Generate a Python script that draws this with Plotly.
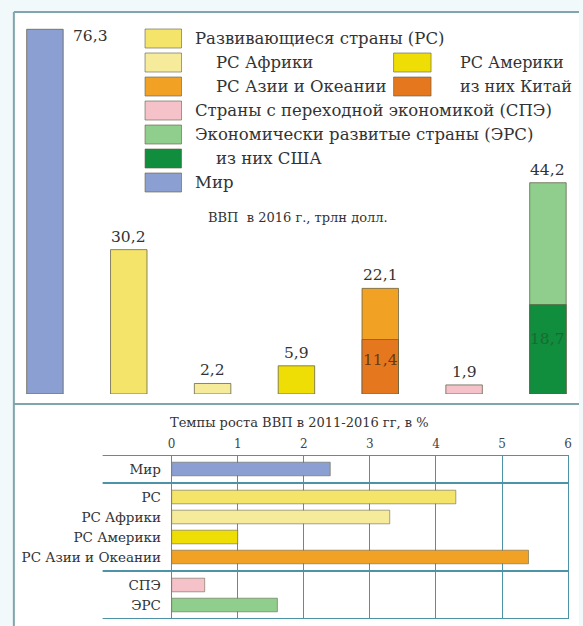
import plotly.graph_objects as go

W, H = 583, 626

# ---------------- data ----------------
gdp_categories = ["Мир", "РС", "РС Африки", "РС Америки", "РС Азии и Океании", "СПЭ", "ЭРС"]
gdp_values = [76.3, 30.2, 2.2, 5.9, 22.1, 1.9, 44.2]
gdp_labels = ["76,3", "30,2", "2,2", "5,9", "22,1", "1,9", "44,2"]

sub_categories = ["РС Азии и Океании", "ЭРС"]
sub_values = [11.4, 18.7]
sub_labels = ["11,4", "18,7"]

growth_categories = ["Мир", "РС", "РС Африки", "РС Америки", "РС Азии и Океании", "СПЭ", "ЭРС"]
growth_values = [2.4, 4.3, 3.3, 1.0, 5.4, 0.5, 1.6]
growth_groups = [0, 1, 1, 1, 1, 2, 2]
growth_ticks = [0, 1, 2, 3, 4, 5, 6]

legend_col1 = ["Развивающиеся страны (РС)", "РС Африки", "РС Азии и Океании",
               "Страны с переходной экономикой (СПЭ)", "Экономически развитые страны (ЭРС)",
               "из них США", "Мир"]
legend_col1_indent = [False, True, True, False, False, True, False]
legend_col2 = ["", "РС Америки", "из них Китай", "", "", "", ""]

gdp_title = "ВВП  в 2016 г., трлн долл."
growth_title = "Темпы роста ВВП в 2011-2016 гг, в %"

# ---------------- styles ----------------
FONT = "DejaVu Serif"
TXT = "#333333"
col = {
    "Мир": "#8b9fd2",
    "РС": "#f5e46a",
    "РС Африки": "#f5eb9a",
    "РС Америки": "#efde05",
    "РС Азии и Океании": "#f1a224",
    "СПЭ": "#f5c2c9",
    "ЭРС": "#8fce8c",
    "Китай": "#e5771f",
    "США": "#108d3d",
}
leg1_colors = [col["РС"], col["РС Африки"], col["РС Азии и Океании"], col["СПЭ"],
               col["ЭРС"], col["США"], col["Мир"]]
leg2_colors = [None, col["РС Америки"], col["Китай"], None, None, None, None]
FRAME = "#7fa6aa"
GRID = "#4d93a8"


def fx(p):
    return p / W


def fy(p):
    return 1 - p / H


fig = go.Figure()

# ---------- top chart ----------
center0, pitch = 41.5, 85.0
base_px, px_per_unit = 394.0, 4.78
bar_w = 37 / pitch

fig.add_trace(go.Bar(
    x=gdp_categories, y=gdp_values, width=bar_w,
    marker=dict(color=[col[c] for c in gdp_categories],
                line=dict(color="rgba(95,95,70,0.75)", width=1)),
    xaxis="x", yaxis="y", hoverinfo="skip", showlegend=False))
fig.add_trace(go.Bar(
    x=sub_categories, y=sub_values, width=bar_w,
    marker=dict(color=[col["Китай"], col["США"]],
                line=dict(color="rgba(95,95,70,0.75)", width=1)),
    xaxis="x", yaxis="y", hoverinfo="skip", showlegend=False))

annotations = []
for i, (c, v, t) in enumerate(zip(gdp_categories, gdp_values, gdp_labels)):
    if i == 0:
        annotations.append(dict(x=c, y=v, xref="x", yref="y", text=t, showarrow=False,
                                xshift=46, yanchor="top", yshift=4,
                                font=dict(family=FONT, size=15.5, color=TXT)))
    else:
        annotations.append(dict(x=c, y=v, xref="x", yref="y", text=t, showarrow=False,
                                yanchor="bottom", yshift=2,
                                font=dict(family=FONT, size=15.5, color=TXT)))
sub_txt_colors = ["#6b3a12", "#1b6a32"]
for c, v, t, tc in zip(sub_categories, sub_values, sub_labels, sub_txt_colors):
    annotations.append(dict(x=c, y=v * 0.62, xref="x", yref="y", text=t, showarrow=False,
                            font=dict(family=FONT, size=15.5, color=tc)))

annotations.append(dict(x=fx(205), y=fy(217), xref="paper", yref="paper", text=gdp_title,
                        showarrow=False, xanchor="left", yanchor="middle",
                        font=dict(family=FONT, size=13, color=TXT)))

# legend (drawn manually)
shapes = []
row0_top, row_pitch, sw_h = 29, 24, 19
for r, (name, ind, c1) in enumerate(zip(legend_col1, legend_col1_indent, leg1_colors)):
    top = row0_top + r * row_pitch
    shapes.append(dict(type="rect", xref="paper", yref="paper", x0=fx(143), x1=fx(180),
                       y0=fy(top + sw_h), y1=fy(top), fillcolor=c1,
                       line=dict(color="rgba(95,95,70,0.6)", width=1)))
    annotations.append(dict(x=fx(213 if ind else 192), y=fy(top + sw_h / 2), xref="paper",
                            yref="paper", text=name, showarrow=False, xanchor="left",
                            yanchor="middle", font=dict(family=FONT, size=16.5, color=TXT)))
for r, (name, c2) in enumerate(zip(legend_col2, leg2_colors)):
    if not name:
        continue
    top = row0_top + r * row_pitch
    shapes.append(dict(type="rect", xref="paper", yref="paper", x0=fx(395), x1=fx(433),
                       y0=fy(top + sw_h), y1=fy(top), fillcolor=c2,
                       line=dict(color="rgba(95,95,70,0.6)", width=1)))
    annotations.append(dict(x=fx(460), y=fy(top + sw_h / 2), xref="paper", yref="paper",
                            text=name, showarrow=False, xanchor="left", yanchor="middle",
                            font=dict(family=FONT, size=16, color=TXT)))

# ---------- bottom chart ----------
pad = 0.7
positions = []
p = pad
for i, g in enumerate(growth_groups):
    if i > 0:
        p += 2 * pad if g != growth_groups[i - 1] else 1.0
    positions.append(p)
y_end = positions[-1] + pad
separators = [0.0]
for i in range(1, len(growth_groups)):
    if growth_groups[i] != growth_groups[i - 1]:
        separators.append(positions[i] - pad)
separators.append(y_end)

fig.add_trace(go.Bar(
    x=growth_values, y=positions, orientation="h", width=0.68,
    marker=dict(color=[col[c] for c in growth_categories],
                line=dict(color="rgba(95,95,70,0.55)", width=1)),
    xaxis="x2", yaxis="y2", hoverinfo="skip", showlegend=False))

for s in separators:
    shapes.append(dict(type="line", xref="paper", yref="y2", x0=fx(100), x1=fx(572),
                       y0=s, y1=s, line=dict(color=GRID, width=2)))

annotations.append(dict(x=fx(300), y=fy(423), xref="paper", yref="paper", text=growth_title,
                        showarrow=False, xanchor="center", yanchor="middle",
                        font=dict(family=FONT, size=13, color=TXT)))

# frame
shapes.insert(0, dict(type="rect", xref="paper", yref="paper", x0=fx(10), x1=1,
                      y0=0, y1=fy(12), fillcolor="white", line=dict(width=0), layer="below"))
shapes.append(dict(type="line", xref="paper", yref="paper", x0=fx(10), x1=1,
                   y0=fy(12), y1=fy(12), line=dict(color=FRAME, width=2)))
shapes.append(dict(type="line", xref="paper", yref="paper", x0=fx(10), x1=1,
                   y0=fy(404), y1=fy(404), line=dict(color=FRAME, width=2)))
shapes.append(dict(type="line", xref="paper", yref="paper", x0=fx(10), x1=fx(10),
                   y0=0, y1=fy(12), line=dict(color=FRAME, width=2)))

fig.update_layout(
    width=W, height=H,
    margin=dict(l=0, r=0, t=0, b=0),
    paper_bgcolor="#f1f9fb", plot_bgcolor="rgba(0,0,0,0)",
    barmode="overlay", showlegend=False,
    xaxis=dict(domain=[0, 1], range=[-center0 / pitch, (W - center0) / pitch],
               showticklabels=False, showgrid=False, zeroline=False, showline=False,
               fixedrange=True),
    yaxis=dict(domain=[fy(base_px), 1], range=[0, base_px / px_per_unit],
               showticklabels=False, showgrid=False, zeroline=False, showline=False,
               fixedrange=True),
    xaxis2=dict(domain=[fx(170), fx(572)], range=[0, 6], anchor="y2", side="top",
                tickvals=growth_ticks, ticktext=[str(t) for t in growth_ticks],
                showgrid=True, gridcolor=GRID, gridwidth=1, zeroline=False, showline=False,
                ticks="", tickfont=dict(family=FONT, size=12, color="#444"),
                ticklabelstandoff=4),
    yaxis2=dict(domain=[fy(619), fy(455)], range=[y_end, 0], anchor="x2",
                tickvals=positions, ticktext=growth_categories, showgrid=False,
                zeroline=False, showline=True, mirror=True, linecolor=GRID, linewidth=1,
                ticks="", tickfont=dict(family=FONT, size=13.5, color=TXT),
                ticklabelstandoff=7),
    shapes=shapes,
    annotations=annotations,
)

fig.write_html("out.html", config={"displayModeBar": False},
               post_script="document.body.style.margin='0';document.body.style.padding='0';")
